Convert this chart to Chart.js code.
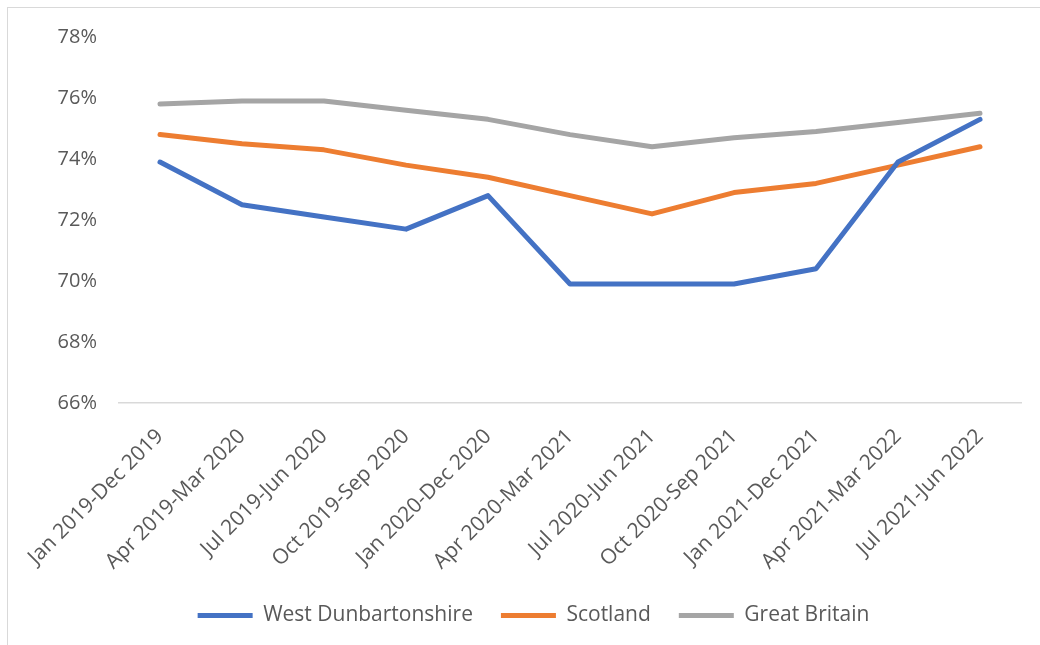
<!DOCTYPE html>
<html><head><meta charset="utf-8">
<script src="https://cdn.jsdelivr.net/npm/chart.js@4"></script>
<style>
html,body{margin:0;padding:0;background:#fff;}
#wrap{position:relative;width:1040px;height:645px;overflow:hidden;}
#frame{position:absolute;left:7px;top:7px;width:1100px;height:700px;border-left:1.5px solid #d9d9d9;border-top:1.5px solid #d9d9d9;box-sizing:border-box;}
canvas{position:absolute;left:0;top:0;}
</style></head>
<body>
<div id="wrap"><div id="frame"></div><canvas id="c" width="1040" height="645"></canvas></div>
<script>
const categories = ["Jan 2019-Dec 2019","Apr 2019-Mar 2020","Jul 2019-Jun 2020","Oct 2019-Sep 2020","Jan 2020-Dec 2020","Apr 2020-Mar 2021","Jul 2020-Jun 2021","Oct 2020-Sep 2021","Jan 2021-Dec 2021","Apr 2021-Mar 2022","Jul 2021-Jun 2022"];
const westDunbartonshire = [73.9,72.5,72.1,71.7,72.8,69.9,69.9,69.9,70.4,73.9,75.3];
const scotland = [74.8,74.5,74.3,73.8,73.4,72.8,72.2,72.9,73.2,73.8,74.4];
const greatBritain = [75.8,75.9,75.9,75.6,75.3,74.8,74.4,74.7,74.9,75.2,75.5];
const yTicks = [66,68,70,72,74,76,78];

const FONT = "'Open Sans', sans-serif";
const TXT = '#595959';
function ds(label, data, color){
  return {label, data, borderColor: color, backgroundColor: color, borderWidth: 5,
    pointRadius: 0, pointHoverRadius: 0, tension: 0, borderCapStyle: 'round', borderJoinStyle: 'round', fill: false};
}
new Chart(document.getElementById('c'), {
  type: 'line',
  data: { labels: categories, datasets: [
    ds('West Dunbartonshire', westDunbartonshire, '#4472C4'),
    ds('Scotland', scotland, '#ED7D31'),
    ds('Great Britain', greatBritain, '#A5A5A5')
  ]},
  options: {
    responsive: false, animation: false,
    layout: { padding: { top: 37, right: 19, bottom: 9, left: 46 } },
    plugins: {
      tooltip: { enabled: false },
      legend: { position: 'bottom',
        labels: { color: TXT, font: { family: FONT, size: 21 }, boxWidth: 55, boxHeight: 5, padding: 28,
          generateLabels(chart){
            const items = Chart.defaults.plugins.legend.labels.generateLabels(chart);
            items.forEach(i => { i.lineWidth = 0; });
            return items;
          } } }
    },
    scales: {
      x: { offset: true,
        grid: { display: false, drawTicks: false },
        border: { display: true, color: '#D9D9D9', width: 1.5 },
        ticks: { color: TXT, font: { family: FONT, size: 21 }, minRotation: 45, maxRotation: 45, padding: 21, autoSkip: false },
        afterFit(s){ s.height = 174; }
      },
      y: { min: 66, max: 78,
        afterBuildTicks(s){ s.ticks = yTicks.map(v => ({value: v})); },
        grid: { display: false, drawTicks: false },
        border: { display: false },
        ticks: { color: TXT, font: { family: FONT, size: 20 }, padding: 22, callback: v => v + '%' },
        afterFit(s){ s.width = 73; }
      }
    }
  }
});
</script>
</body></html>
